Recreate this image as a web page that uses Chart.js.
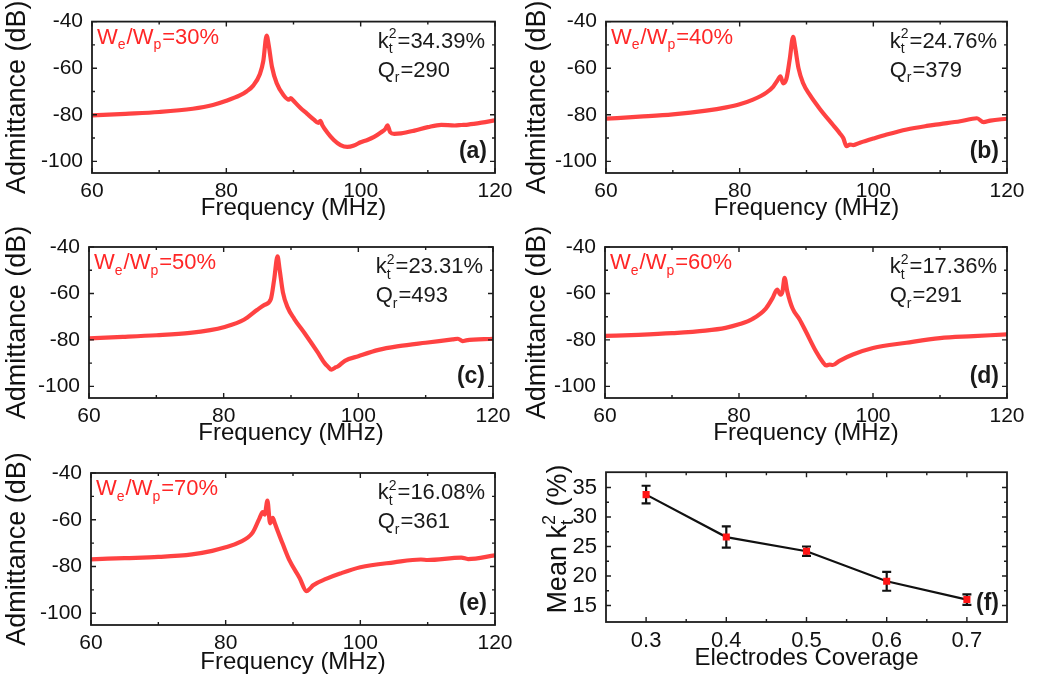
<!DOCTYPE html>
<html>
<head>
<meta charset="utf-8">
<script src="https://cdn.jsdelivr.net/npm/chart.js@4.4.1/dist/chart.umd.min.js"></script>
<style>
  html, body { margin: 0; padding: 0; background: #fff; }
  #fig { position: relative; width: 1045px; height: 679px; overflow: hidden; }
  #fig canvas { position: absolute; }
</style>
</head>
<body>
<div id="fig">
  <canvas id="pa" width="520" height="225" style="left:0;top:0"></canvas>
  <canvas id="pb" width="525" height="225" style="left:520px;top:0"></canvas>
  <canvas id="pc" width="520" height="225" style="left:0;top:225px"></canvas>
  <canvas id="pd" width="525" height="225" style="left:520px;top:225px"></canvas>
  <canvas id="pe" width="520" height="229" style="left:0;top:450px"></canvas>
  <canvas id="pf" width="525" height="229" style="left:520px;top:450px"></canvas>
</div>
<script>
const FONT = '"Liberation Sans", Arial, Helvetica, sans-serif';
const RED = 'rgba(255, 40, 40, 0.88)';

// axis ticks
const freqTicks = [60, 80, 100, 120];
const admTicks = [-100, -80, -60, -40];
const coverageTicks = [0.3, 0.4, 0.5, 0.6, 0.7];
const meanKtTicks = [15, 20, 25, 30, 35];

// admittance spectra (MHz, dB)
const freqA = [60, 65, 70, 75, 78, 80, 82, 83, 84, 85, 85.5, 86, 86.3, 86.8, 87.5, 88.5, 89.3, 89.6, 90, 91, 92, 93, 93.7, 94, 94.3, 95, 96, 97, 98, 99, 100, 101, 102, 103, 103.7, 104, 104.4, 105, 106, 108, 110, 112, 114, 115, 116, 118, 120];
const admA = [-80.3, -79.6, -78.8, -77.4, -75.8, -74, -71.7, -70, -67.5, -62.5, -57, -46, -50, -59.5, -66.5, -71.5, -73.5, -72.8, -74, -77, -79.5, -82, -83.5, -82.6, -84.5, -87.5, -90.8, -93, -93.8, -93.2, -91.8, -90.8, -89.5, -87.6, -86, -84.5, -87.5, -88.2, -88, -86.8, -85.3, -84.3, -84.6, -84.4, -84.2, -83.4, -82.4];

const freqB = [60, 65, 70, 75, 78, 80, 82, 84, 85, 85.6, 86.1, 86.5, 87, 87.5, 88, 88.3, 88.8, 89.5, 90.5, 92, 94, 95, 95.5, 96, 96.5, 97, 98, 100, 102, 105, 108, 110, 113, 115.5, 116.5, 117.5, 120];
const admB = [-81.7, -80.8, -79.8, -78.2, -76.8, -75.5, -73.5, -70.5, -68, -65.5, -63.5, -66.5, -64.5, -56, -46.5, -51, -60, -66.5, -71.5, -77.5, -84.5, -88, -90, -93.5, -92.8, -93, -92, -90.2, -88.5, -86.3, -84.8, -84, -82.8, -81.5, -83.2, -82.5, -81.7];

const freqC = [60, 65, 70, 75, 78, 80, 83, 85, 86, 87, 87.5, 88, 88.3, 88.8, 89.5, 90.5, 92, 94, 95, 95.5, 96, 96.5, 97, 98, 100, 103, 106, 110, 114, 114.8, 115.5, 116, 120];
const admC = [-79.3, -78.7, -78, -77, -75.8, -74.5, -71.3, -67, -65, -62.5, -54, -44, -49.5, -59.5, -66, -71, -77, -85.5, -90, -91.5, -92.8, -92, -91.3, -89, -87, -84.3, -82.7, -81.2, -79.8, -79.5, -80.5, -80.2, -79.5];

const freqD = [60, 65, 70, 75, 78, 80, 82, 84, 85, 85.7, 86.2, 86.5, 86.8, 87.2, 88, 89, 90, 91.5, 92.5, 93, 93.5, 94, 95, 97, 100, 105, 110, 115, 120];
const admD = [-78.3, -77.8, -77.1, -76, -74.8, -73.3, -71, -66.5, -62, -58.3, -60.5, -59, -53.3, -59, -66.5, -71, -76.5, -85, -89.5, -91, -90.6, -90.8, -89, -86.3, -83.5, -81.2, -79.2, -78.4, -77.6];

const freqE = [60, 65, 70, 75, 78, 80, 82, 84, 85, 85.5, 85.8, 86.2, 86.6, 87, 87.3, 87.6, 88.5, 89.5, 91, 92, 92.5, 93, 95, 97, 100, 105, 109, 110, 115, 116, 120];
const admE = [-76.9, -76.4, -75.9, -74.8, -73.3, -71.8, -69.7, -65.5, -59.5, -56.7, -57.8, -51.8, -61.5, -59.2, -61.5, -63.8, -70.5, -77.5, -85, -90.5, -89.5, -88, -85.2, -83, -80.3, -78.2, -77, -77.2, -76.2, -76.8, -75.2];

// mean coupling coefficient vs electrode coverage
const coverage = [0.3, 0.4, 0.5, 0.6, 0.7];
const meanKt = [33.8, 26.6, 24.2, 19.1, 16.0];
const ktErr = [1.5, 1.8, 0.8, 1.6, 0.9];

// per-panel annotations
const widthRatios = ['30%', '40%', '50%', '60%', '70%'];
const ktValues = ['34.39%', '24.76%', '23.31%', '17.36%', '16.08%'];
const qrValues = ['290', '379', '493', '291', '361'];
const panelTags = ['(a)', '(b)', '(c)', '(d)', '(e)', '(f)'];

// canvas id, plot area inside canvas: left, right, top, bottom
const LAYOUT = [
  ['pa', 92, 495, 21, 173],
  ['pb', 86, 487, 21, 173],
  ['pc', 89, 493, 22, 173],
  ['pd', 85, 487, 22, 173],
  ['pe', 91, 495, 23, 175],
  ['pf', 86, 487, 17, 172]
];

// draws text runs with stacked sub/superscripts, returns total width
function rich(ctx, x, y, runs, size, draw) {
  const small = Math.round(size * 0.65);
  let cx = x;
  runs.forEach(r => {
    if (r.t !== undefined) {
      ctx.font = `${size}px ${FONT}`;
      if (draw) ctx.fillText(r.t, cx, y);
      cx += ctx.measureText(r.t).width;
    } else {
      ctx.font = `${small}px ${FONT}`;
      const ws = r.sub ? ctx.measureText(r.sub).width : 0;
      const wp = r.sup ? ctx.measureText(r.sup).width : 0;
      if (draw) {
        if (r.sub) ctx.fillText(r.sub, cx, y + size * 0.26);
        if (r.sup) ctx.fillText(r.sup, cx, y - size * 0.42);
      }
      cx += Math.max(ws, wp) + 1;
    }
  });
  return cx - x;
}

function minorsOf(vals) {
  return vals.slice(1).map((v, i) => (v + vals[i]) / 2);
}

// closed frame with inward ticks on all four sides
const frameTicks = {
  id: 'frameTicks',
  afterDatasetsDraw(chart) {
    const { ctx, chartArea: a, scales: { x, y } } = chart;
    const xt = x.ticks.map(t => t.value);
    const yt = y.ticks.map(t => t.value);
    ctx.save();
    ctx.strokeStyle = '#1c1c1c';
    ctx.lineWidth = 1.4;
    ctx.beginPath();
    const xMarks = xt.map(v => [v, 5]).concat(minorsOf(xt).map(v => [v, 3]));
    xMarks.forEach(([v, len]) => {
      const px = x.getPixelForValue(v);
      ctx.moveTo(px, a.bottom); ctx.lineTo(px, a.bottom - len);
      ctx.moveTo(px, a.top); ctx.lineTo(px, a.top + len);
    });
    const yMarks = yt.map(v => [v, 5]).concat(minorsOf(yt).map(v => [v, 3]));
    yMarks.forEach(([v, len]) => {
      const py = y.getPixelForValue(v);
      ctx.moveTo(a.left, py); ctx.lineTo(a.left + len, py);
      ctx.moveTo(a.right, py); ctx.lineTo(a.right - len, py);
    });
    ctx.stroke();
    ctx.lineWidth = 1.8;
    ctx.strokeRect(a.left, a.top, a.right - a.left, a.bottom - a.top);
    ctx.restore();
  }
};

// W_e/W_p, k_t^2, Q_r and the panel tag
const panelText = {
  id: 'panelText',
  afterDraw(chart, args, opts) {
    const { ctx, chartArea: a } = chart;
    const i = opts.index;
    ctx.save();
    ctx.textBaseline = 'alphabetic';
    ctx.textAlign = 'left';
    if (i < 5) {
      ctx.fillStyle = '#ff2626';
      rich(ctx, a.left + 5, a.top + 22,
        [{ t: 'W' }, { sub: 'e' }, { t: '/W' }, { sub: 'p' }, { t: '=' + widthRatios[i] }], 22, true);
      ctx.fillStyle = '#1a1a1a';
      const kRuns = [{ t: 'k' }, { sub: 't', sup: '2' }, { t: '=' + ktValues[i] }];
      const w = rich(ctx, 0, 0, kRuns, 22, false);
      const x0 = a.right - 10 - w;
      rich(ctx, x0, a.top + 26, kRuns, 22, true);
      rich(ctx, x0, a.top + 55, [{ t: 'Q' }, { sub: 'r' }, { t: '=' + qrValues[i] }], 22, true);
    }
    ctx.fillStyle = '#1a1a1a';
    ctx.font = `bold 23px ${FONT}`;
    ctx.textAlign = 'right';
    ctx.fillText(panelTags[i], a.right - 8, i < 5 ? a.bottom - 15 : a.bottom - 12);
    ctx.restore();
  }
};

// error bars under the markers
const errorBars = {
  id: 'errorBars',
  beforeDatasetsDraw(chart) {
    const { ctx, scales: { x, y } } = chart;
    ctx.save();
    ctx.strokeStyle = '#111';
    ctx.lineWidth = 2.2;
    ctx.beginPath();
    coverage.forEach((c, i) => {
      const px = x.getPixelForValue(c);
      const hi = y.getPixelForValue(meanKt[i] + ktErr[i]);
      const lo = y.getPixelForValue(meanKt[i] - ktErr[i]);
      ctx.moveTo(px, hi); ctx.lineTo(px, lo);
      ctx.moveTo(px - 4.5, hi); ctx.lineTo(px + 4.5, hi);
      ctx.moveTo(px - 4.5, lo); ctx.lineTo(px + 4.5, lo);
    });
    ctx.stroke();
    ctx.restore();
  }
};

// rotated y title with subscript and superscript
const ktTitle = {
  id: 'ktTitle',
  afterDraw(chart) {
    const { ctx, chartArea: a } = chart;
    const runs = [{ t: 'Mean k' }, { sub: 't', sup: '2' }, { t: ' (%)' }];
    ctx.save();
    ctx.fillStyle = '#111';
    ctx.textBaseline = 'alphabetic';
    const w = rich(ctx, 0, 0, runs, 27, false);
    ctx.translate(46, (a.top + a.bottom) / 2 - 8);
    ctx.rotate(-Math.PI / 2);
    rich(ctx, -w / 2, 0, runs, 27, true);
    ctx.restore();
  }
};

function axisBase(fit, ticks, size) {
  return {
    type: 'linear',
    afterFit: fit,
    afterBuildTicks: s => { s.ticks = ticks.map(v => ({ value: v })); },
    grid: { display: false, drawTicks: false },
    border: { display: false },
    ticks: { color: '#111', font: { family: FONT, size: size }, autoSkip: false }
  };
}

function chartOptions(i, canvas, xAxis, yAxis) {
  return {
    responsive: false,
    animation: false,
    events: [],
    layout: { padding: { left: 0, top: LAYOUT[i][3], right: canvas.width - LAYOUT[i][2], bottom: 0 } },
    scales: { x: xAxis, y: yAxis },
    plugins: { legend: { display: false }, tooltip: { enabled: false }, panelText: { index: i } }
  };
}

function makeSpectrum(i, freq, adm) {
  const canvas = document.getElementById(LAYOUT[i][0]);
  const [, left, , , bottom] = LAYOUT[i];
  const xAxis = axisBase(s => { s.height = canvas.height - bottom; }, freqTicks, 21);
  Object.assign(xAxis, { min: 60, max: 120 });
  xAxis.ticks.padding = 6;
  xAxis.title = { display: true, text: 'Frequency (MHz)', color: '#111', font: { family: FONT, size: 24 }, padding: { top: 0, bottom: 2 } };
  const yAxis = axisBase(s => { s.width = left; }, admTicks, 21);
  Object.assign(yAxis, { min: -105, max: -40 });
  yAxis.ticks.padding = 9;
  yAxis.title = { display: true, text: 'Admittance (dB)', color: '#111', font: { family: FONT, size: 27 }, padding: { top: 1, bottom: 0 } };

  return new Chart(canvas, {
    type: 'line',
    data: {
      datasets: [{
        data: freq.map((v, k) => ({ x: v, y: adm[k] })),
        borderColor: RED,
        borderWidth: 4.2,
        borderJoinStyle: 'round',
        borderCapStyle: 'round',
        cubicInterpolationMode: 'monotone',
        pointRadius: 0
      }]
    },
    options: chartOptions(i, canvas, xAxis, yAxis),
    plugins: [frameTicks, panelText]
  });
}

function makeCoverage() {
  const i = 5;
  const canvas = document.getElementById(LAYOUT[i][0]);
  const [, left, , , bottom] = LAYOUT[i];
  const xAxis = axisBase(s => { s.height = canvas.height - bottom; }, coverageTicks, 22);
  Object.assign(xAxis, { min: 0.25, max: 0.75 });
  xAxis.ticks.padding = 6;
  xAxis.ticks.callback = v => v.toFixed(1);
  xAxis.title = { display: true, text: 'Electrodes Coverage', color: '#111', font: { family: FONT, size: 24 }, padding: { top: 0, bottom: 6 } };
  const yAxis = axisBase(s => { s.width = left; }, meanKtTicks, 22);
  Object.assign(yAxis, { min: 12.2, max: 37.6 });
  yAxis.ticks.padding = 9;

  return new Chart(canvas, {
    type: 'scatter',
    data: {
      datasets: [{
        data: coverage.map((v, k) => ({ x: v, y: meanKt[k] })),
        showLine: true,
        borderColor: '#111',
        borderWidth: 2.2,
        pointStyle: 'rect',
        pointRadius: 5,
        pointBackgroundColor: '#ff1414',
        pointBorderColor: '#ff1414',
        pointBorderWidth: 0
      }]
    },
    options: chartOptions(i, canvas, xAxis, yAxis),
    plugins: [errorBars, frameTicks, panelText, ktTitle]
  });
}

makeSpectrum(0, freqA, admA);
makeSpectrum(1, freqB, admB);
makeSpectrum(2, freqC, admC);
makeSpectrum(3, freqD, admD);
makeSpectrum(4, freqE, admE);
makeCoverage();
</script>
</body>
</html>
